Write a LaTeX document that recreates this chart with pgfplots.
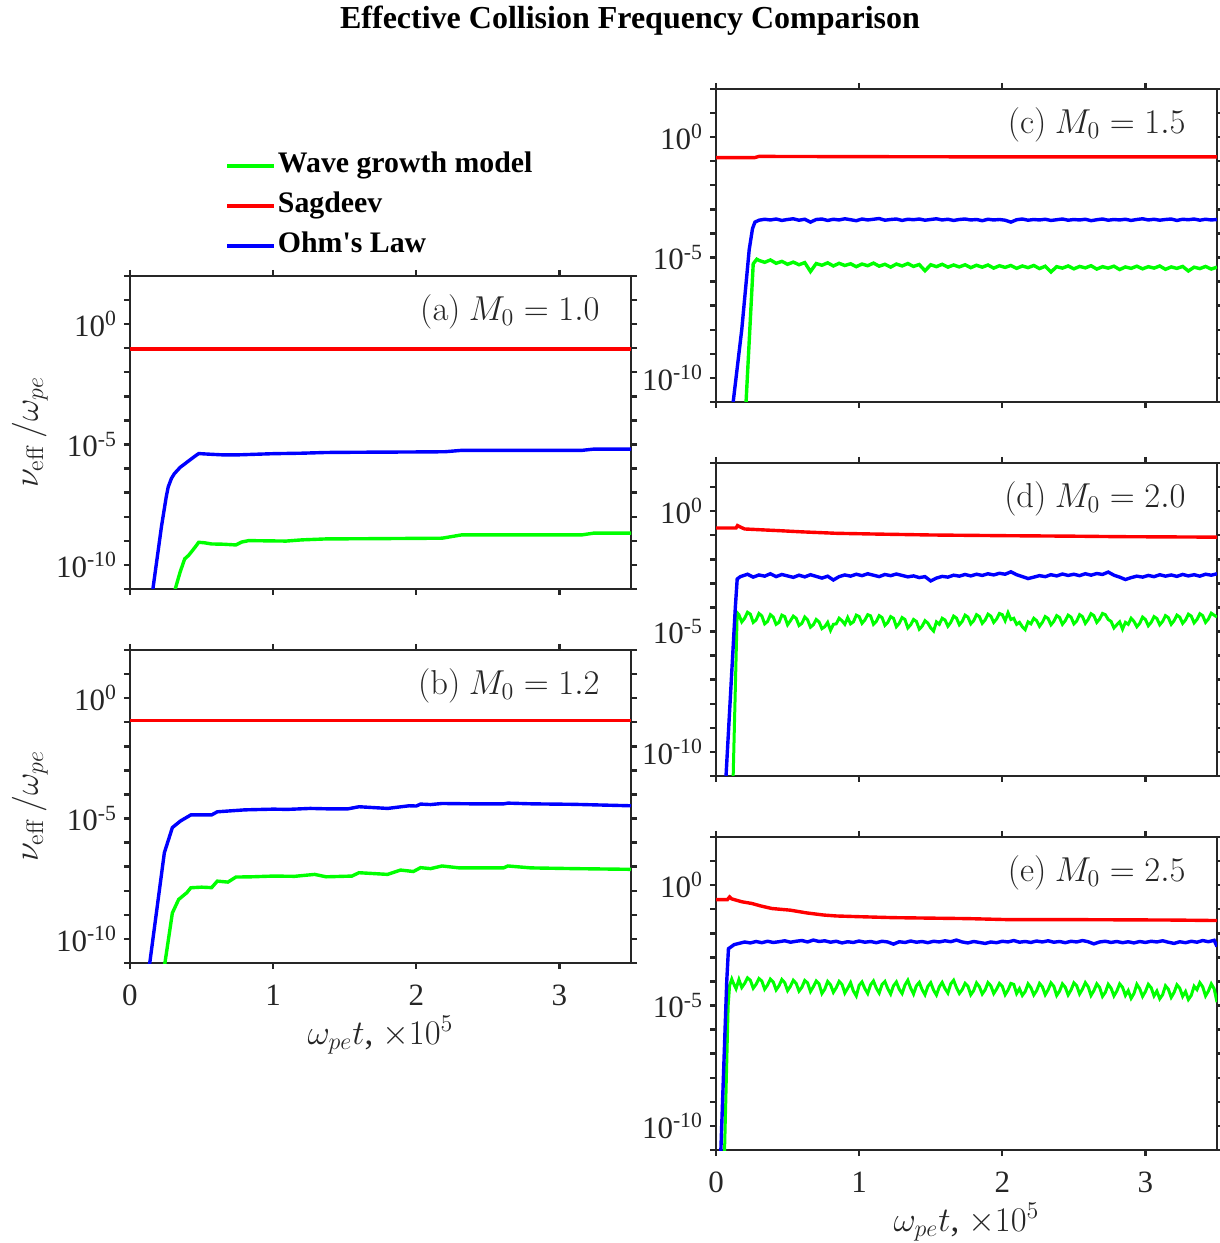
\documentclass[border=0pt]{standalone}
\usepackage[no-math]{fontspec}
\setmainfont{Liberation Serif}[Ligatures=TeXOff]
\usepackage{pgfplots}
\pgfplotsset{compat=1.18}
\definecolor{axgray}{rgb}{0.15,0.15,0.15}
\definecolor{cg}{rgb}{0,1,0}
\definecolor{cr}{rgb}{1,0,0}
\definecolor{cb}{rgb}{0,0,1}
\pgfplotsset{
  myPanel/.style={
    scale only axis, width=250.5pt, height=156.5pt,
    xmin=0, xmax=3.5, ymin=1e-11, ymax=1e2,
    xtick={0,1,2,3},
    ytick={1e-10,1e-5,1},
    yticklabels={10\textsuperscript{-10},10\textsuperscript{-5},10\textsuperscript{0}},
    minor ytick={1e-11,1e-9,1e-8,1e-7,1e-6,1e-4,1e-3,1e-2,1e-1,1e1,1e2},
    tick align=outside,
    major tick length=3pt, minor tick length=3pt,
    axis line style={line width=1.2pt, axgray},
    tick style={line width=1.2pt, axgray},
    tick label style={font=\fontsize{15.5}{18}\selectfont, text=axgray},
    xticklabel style={yshift=-4.5pt},
    label style={font=\fontsize{17.5}{20}\selectfont, text=axgray},
    clip=true,
  },
  myYlab/.style={ylabel={$\nu_{\mathrm{eff}}\,/\omega_{pe}$},
    ylabel style={at={(axis description cs:-0.2,0.5)}, anchor=center}},
  myXlab/.style={xlabel={$\omega_{pe}t$, $\times 10^5$},
    xlabel style={at={(axis description cs:0.5,-0.23)}, anchor=center}},
  myNolab/.style={xticklabels={}},
  myLine/.style={line width=1.7pt, no marks},
  myNoisy/.style={line width=1.5pt, no marks},
}
\newcommand{\plabel}[1]{\node[anchor=east, inner sep=0pt, font=\fontsize{17}{20}\selectfont, text=axgray] at (rel axis cs:0.938,0.885) {#1};}
\begin{document}
\begin{tikzpicture}
\useasboundingbox (0,0) rectangle (610pt,621.5pt);
\node[font=\bfseries\fontsize{16}{19}\selectfont] at (315pt,611pt) {Effective Collision Frequency Comparison};

% ---------------- (a) M0 = 1.0
\begin{axis}[ymode=log, myPanel, myYlab, myNolab, at={(65pt,327pt)}, anchor=south west,
  legend style={at={(axis description cs:0.178,1.42)}, anchor=north west, draw=none, fill=none,
    font=\bfseries\fontsize{14.9}{17}\selectfont, row sep=3pt,
    nodes={inner sep=1pt, text height=11pt, text depth=4pt}},
  legend cell align=left,
  legend image code/.code={\draw[#1, line width=1.7pt] (0pt,0pt) -- (23.5pt,0pt);}]
\addplot[cg, myLine] table[x index=0, y expr=10^(\thisrowno{1})] {
0.30 -11.3
0.316 -11.0
0.35 -10.3
0.382 -9.75
0.41 -9.6
0.45 -9.3
0.48 -9.06
0.52 -9.08
0.57 -9.13
0.65 -9.14
0.74 -9.17
0.78 -9.05
0.83 -8.99
0.95 -9.0
1.09 -9.01
1.2 -8.96
1.37 -8.92
1.7 -8.91
2.18 -8.89
2.32 -8.75
2.8 -8.75
3.16 -8.75
3.24 -8.68
3.5 -8.68
};
\addlegendentry{Wave growth model}
\addplot[cr, myLine] table[x index=0, y expr=10^(\thisrowno{1})] {
0 -1.03
3.5 -1.03
};
\addlegendentry{Sagdeev}
\addplot[cb, myLine] table[x index=0, y expr=10^(\thisrowno{1})] {
0.15 -11.3
0.16 -11.0
0.22 -8.4
0.253 -7.18
0.267 -6.76
0.29 -6.40
0.31 -6.21
0.35 -5.95
0.41 -5.68
0.45 -5.5
0.48 -5.375
0.55 -5.40
0.65 -5.43
0.75 -5.43
0.85 -5.41
1.0 -5.38
1.2 -5.36
1.37 -5.33
1.6 -5.32
1.95 -5.31
2.2 -5.30
2.32 -5.24
2.7 -5.24
3.16 -5.24
3.24 -5.19
3.5 -5.19
};
\addlegendentry{Ohm's Law}
\plabel{$(\mathrm{a})\ M_0 = 1.0$}
\end{axis}

% ---------------- (b) M0 = 1.2
\begin{axis}[ymode=log, myPanel, myYlab, myXlab, at={(65pt,140pt)}, anchor=south west,
  xticklabels={0,1,2,3}]
\addplot[cg, myLine] table[x index=0, y expr=10^(\thisrowno{1})] {
0.235 -11.3
0.244 -11.0
0.296 -8.92
0.34 -8.36
0.397 -8.08
0.425 -7.875
0.5 -7.85
0.57 -7.87
0.61 -7.6
0.684 -7.64
0.74 -7.43
0.85 -7.42
1.0 -7.39
1.15 -7.4
1.29 -7.32
1.37 -7.42
1.55 -7.39
1.6 -7.25
1.8 -7.32
1.89 -7.14
1.98 -7.2
2.03 -7.04
2.1 -7.08
2.18 -6.97
2.3 -7.05
2.61 -7.05
2.64 -6.97
2.8 -7.05
3.1 -7.08
3.5 -7.11
};
\addplot[cr, myLine] table[x index=0, y expr=10^(\thisrowno{1})] {
0 -0.93
3.5 -0.93
};
\addplot[cb, myLine] table[x index=0, y expr=10^(\thisrowno{1})] {
0.13 -11.3
0.138 -11.0
0.24 -6.42
0.296 -5.375
0.353 -5.1
0.425 -4.85
0.57 -4.85
0.61 -4.72
0.8 -4.64
1.0 -4.61
1.1 -4.62
1.26 -4.58
1.4 -4.6
1.52 -4.6
1.6 -4.51
1.8 -4.58
1.95 -4.47
2.0 -4.48
2.03 -4.4
2.1 -4.42
2.18 -4.375
2.4 -4.39
2.61 -4.39
2.64 -4.36
2.81 -4.39
3.1 -4.41
3.5 -4.47
};
\plabel{$(\mathrm{b})\ M_0 = 1.2$}
\end{axis}

% ---------------- (c) M0 = 1.5
\begin{axis}[ymode=log, myPanel, myNolab, at={(358pt,420.5pt)}, anchor=south west]
\addplot[cg, myLine] table[x index=0, y expr=10^(\thisrowno{1})] {
0.20 -11.3
0.21 -11.0
0.26 -5.26
0.285 -5.07
0.30 -5.12
0.34 -5.20
0.38 -5.10
0.42 -5.24
0.46 -5.16
0.50 -5.28
0.54 -5.19
0.58 -5.30
0.62 -5.21
0.66 -5.58
0.70 -5.25
0.74 -5.32
0.78 -5.22
0.82 -5.35
0.86 -5.24
0.90 -5.33
0.94 -5.26
0.98 -5.38
1.02 -5.27
1.06 -5.34
1.10 -5.23
1.14 -5.36
1.18 -5.28
1.22 -5.40
1.26 -5.27
1.30 -5.35
1.34 -5.25
1.38 -5.37
1.42 -5.29
1.46 -5.55
1.50 -5.30
1.54 -5.38
1.58 -5.28
1.62 -5.40
1.66 -5.31
1.70 -5.39
1.74 -5.30
1.78 -5.42
1.82 -5.32
1.86 -5.40
1.90 -5.31
1.94 -5.44
1.98 -5.34
2.02 -5.41
2.06 -5.33
2.10 -5.45
2.14 -5.35
2.18 -5.42
2.22 -5.33
2.26 -5.46
2.30 -5.36
2.34 -5.60
2.38 -5.38
2.42 -5.44
2.46 -5.35
2.50 -5.47
2.54 -5.37
2.58 -5.43
2.62 -5.34
2.66 -5.48
2.70 -5.38
2.74 -5.44
2.78 -5.36
2.82 -5.50
2.86 -5.39
2.90 -5.45
2.94 -5.36
2.98 -5.47
3.02 -5.38
3.06 -5.44
3.10 -5.35
3.14 -5.49
3.18 -5.39
3.22 -5.45
3.26 -5.37
3.30 -5.56
3.34 -5.40
3.38 -5.46
3.42 -5.37
3.46 -5.48
3.50 -5.40
};
\addplot[cr, myLine] table[x index=0, y expr=10^(\thisrowno{1})] {
0 -0.85
0.27 -0.85
0.30 -0.80
1.0 -0.81
2.0 -0.82
3.5 -0.82
};
\addplot[cb, myLine] table[x index=0, y expr=10^(\thisrowno{1})] {
0.11 -11.3
0.12 -11.0
0.18 -7.99
0.232 -4.67
0.255 -3.8
0.272 -3.53
0.30 -3.45
0.34 -3.41
0.38 -3.44
0.42 -3.40
0.46 -3.46
0.50 -3.42
0.54 -3.39
0.58 -3.45
0.62 -3.41
0.66 -3.53
0.70 -3.42
0.74 -3.40
0.78 -3.46
0.82 -3.41
0.86 -3.44
0.90 -3.39
0.94 -3.43
0.98 -3.47
1.02 -3.40
1.06 -3.44
1.10 -3.41
1.14 -3.38
1.18 -3.45
1.22 -3.42
1.26 -3.40
1.30 -3.46
1.34 -3.41
1.38 -3.43
1.42 -3.40
1.46 -3.45
1.50 -3.42
1.54 -3.39
1.58 -3.44
1.62 -3.41
1.66 -3.46
1.70 -3.42
1.74 -3.40
1.78 -3.44
1.82 -3.42
1.86 -3.47
1.90 -3.41
1.94 -3.44
1.98 -3.42
2.02 -3.45
2.06 -3.53
2.10 -3.43
2.14 -3.40
2.18 -3.45
2.22 -3.42
2.26 -3.44
2.30 -3.41
2.34 -3.46
2.38 -3.43
2.42 -3.40
2.46 -3.45
2.50 -3.42
2.54 -3.44
2.58 -3.41
2.62 -3.47
2.66 -3.43
2.70 -3.40
2.74 -3.45
2.78 -3.42
2.82 -3.44
2.86 -3.41
2.90 -3.46
2.94 -3.42
2.98 -3.39
3.02 -3.44
3.06 -3.41
3.10 -3.45
3.14 -3.42
3.18 -3.40
3.22 -3.46
3.26 -3.41
3.30 -3.43
3.34 -3.40
3.38 -3.45
3.42 -3.41
3.46 -3.44
3.50 -3.42
};
\plabel{$(\mathrm{c})\ M_0 = 1.5$}
\end{axis}

% ---------------- (d) M0 = 2.0
\begin{axis}[ymode=log, myPanel, myNolab, at={(358pt,233.5pt)}, anchor=south west]
\addplot[cg, myNoisy] table[x index=0, y expr=10^(\thisrowno{1})] {
0.115 -11.3
0.12 -11.0
0.148 -4.22
0.16 -4.30
0.18 -4.60
0.20 -4.45
0.22 -4.20
0.24 -4.28
0.26 -4.62
0.28 -4.52
0.30 -4.25
0.32 -4.35
0.34 -4.68
0.36 -4.58
0.38 -4.30
0.40 -4.40
0.42 -4.70
0.44 -4.62
0.46 -4.32
0.48 -4.38
0.50 -4.72
0.52 -4.55
0.54 -4.36
0.56 -4.45
0.58 -4.75
0.60 -4.66
0.62 -4.40
0.64 -4.52
0.66 -4.82
0.68 -4.72
0.70 -4.50
0.72 -4.60
0.74 -4.88
0.76 -4.80
0.78 -4.62
0.80 -4.95
0.82 -4.70
0.84 -4.68
0.86 -4.45
0.88 -4.55
0.90 -4.70
0.92 -4.42
0.94 -4.68
0.96 -4.60
0.98 -4.32
1.00 -4.38
1.02 -4.66
1.04 -4.52
1.06 -4.30
1.08 -4.35
1.10 -4.70
1.12 -4.58
1.14 -4.34
1.16 -4.42
1.18 -4.74
1.20 -4.62
1.22 -4.38
1.24 -4.45
1.26 -4.80
1.28 -4.66
1.30 -4.42
1.32 -4.50
1.34 -4.85
1.36 -4.72
1.38 -4.50
1.40 -4.58
1.42 -4.90
1.44 -4.78
1.46 -4.55
1.48 -4.65
1.50 -4.85
1.52 -4.98
1.54 -4.60
1.56 -4.70
1.58 -4.45
1.60 -4.52
1.62 -4.78
1.64 -4.62
1.66 -4.36
1.68 -4.44
1.70 -4.72
1.72 -4.58
1.74 -4.32
1.76 -4.40
1.78 -4.68
1.80 -4.55
1.82 -4.30
1.84 -4.38
1.86 -4.66
1.88 -4.52
1.90 -4.28
1.92 -4.36
1.94 -4.62
1.96 -4.48
1.98 -4.25
2.00 -4.30
2.02 -4.55
2.04 -4.22
2.06 -4.50
2.08 -4.45
2.10 -4.70
2.12 -4.62
2.14 -4.80
2.16 -4.92
2.18 -4.60
2.20 -4.68
2.22 -4.45
2.24 -4.55
2.26 -4.78
2.28 -4.62
2.30 -4.38
2.32 -4.46
2.34 -4.72
2.36 -4.58
2.38 -4.34
2.40 -4.42
2.42 -4.70
2.44 -4.55
2.46 -4.32
2.48 -4.40
2.50 -4.68
2.52 -4.56
2.54 -4.30
2.56 -4.38
2.58 -4.66
2.60 -4.50
2.62 -4.26
2.64 -4.34
2.66 -4.62
2.68 -4.48
2.70 -4.25
2.72 -4.30
2.74 -4.50
2.76 -4.58
2.78 -4.85
2.80 -4.72
2.82 -4.60
2.84 -4.90
2.86 -4.62
2.88 -4.70
2.90 -4.45
2.92 -4.58
2.94 -4.80
2.96 -4.66
2.98 -4.40
3.00 -4.50
3.02 -4.76
3.04 -4.62
3.06 -4.38
3.08 -4.46
3.10 -4.72
3.12 -4.58
3.14 -4.34
3.16 -4.42
3.18 -4.70
3.20 -4.55
3.22 -4.32
3.24 -4.40
3.26 -4.66
3.28 -4.52
3.30 -4.28
3.32 -4.36
3.34 -4.64
3.36 -4.50
3.38 -4.26
3.40 -4.34
3.42 -4.62
3.44 -4.48
3.46 -4.24
3.48 -4.32
3.50 -4.40
};
\addplot[cr, myLine] table[x index=0, y expr=10^(\thisrowno{1})] {
0 -0.70
0.14 -0.70
0.15 -0.60
0.17 -0.66
0.2 -0.74
0.3 -0.77
0.44 -0.81
0.6 -0.86
0.84 -0.92
1.1 -0.95
1.5 -0.99
2.03 -1.02
2.5 -1.04
2.82 -1.06
3.5 -1.08
};
\addplot[cb, myLine] table[x index=0, y expr=10^(\thisrowno{1})] {
0.065 -11.3
0.07 -11.0
0.135 -4.0
0.148 -2.82
0.17 -2.72
0.18 -2.70
0.22 -2.62
0.26 -2.74
0.30 -2.65
0.34 -2.70
0.38 -2.60
0.42 -2.72
0.46 -2.63
0.50 -2.69
0.54 -2.75
0.58 -2.66
0.62 -2.73
0.66 -2.64
0.70 -2.71
0.74 -2.78
0.78 -2.70
0.82 -2.86
0.86 -2.72
0.90 -2.65
0.94 -2.70
0.98 -2.62
1.02 -2.68
1.06 -2.60
1.10 -2.66
1.14 -2.72
1.18 -2.63
1.22 -2.68
1.26 -2.61
1.30 -2.67
1.34 -2.73
1.38 -2.69
1.42 -2.76
1.46 -2.72
1.50 -2.90
1.54 -2.78
1.58 -2.71
1.62 -2.74
1.66 -2.66
1.70 -2.70
1.74 -2.63
1.78 -2.69
1.82 -2.62
1.86 -2.67
1.90 -2.60
1.94 -2.65
1.98 -2.58
2.02 -2.62
2.06 -2.52
2.10 -2.64
2.14 -2.72
2.18 -2.80
2.22 -2.74
2.26 -2.68
2.30 -2.72
2.34 -2.64
2.38 -2.69
2.42 -2.61
2.46 -2.67
2.50 -2.62
2.54 -2.68
2.58 -2.60
2.62 -2.66
2.66 -2.59
2.70 -2.63
2.74 -2.53
2.78 -2.66
2.82 -2.74
2.86 -2.84
2.90 -2.76
2.94 -2.70
2.98 -2.74
3.02 -2.67
3.06 -2.72
3.10 -2.64
3.14 -2.70
3.18 -2.65
3.22 -2.71
3.26 -2.63
3.30 -2.69
3.34 -2.64
3.38 -2.70
3.42 -2.62
3.46 -2.66
3.50 -2.60
};
\plabel{$(\mathrm{d})\ M_0 = 2.0$}
\end{axis}

% ---------------- (e) M0 = 2.5
\begin{axis}[ymode=log, myPanel, myXlab, at={(358pt,46.5pt)}, anchor=south west,
  xticklabels={0,1,2,3}]
\addplot[cg, myNoisy] table[x index=0, y expr=10^(\thisrowno{1})] {
0.055 -11.3
0.06 -11.0
0.085 -5.0
0.095 -4.17
0.11 -3.90
0.12 -4.05
0.14 -4.30
0.16 -3.92
0.18 -4.25
0.20 -4.08
0.22 -3.85
0.24 -3.95
0.26 -4.28
0.28 -4.12
0.30 -3.88
0.32 -3.98
0.34 -4.32
0.36 -4.15
0.38 -3.90
0.40 -4.02
0.42 -4.35
0.44 -4.18
0.46 -3.92
0.48 -4.05
0.50 -4.38
0.52 -4.20
0.54 -3.95
0.56 -4.08
0.58 -4.40
0.60 -4.24
0.62 -3.96
0.64 -4.06
0.66 -4.42
0.68 -4.22
0.70 -3.98
0.72 -4.10
0.74 -4.50
0.76 -4.32
0.78 -4.00
0.80 -4.14
0.82 -4.45
0.84 -4.26
0.86 -4.00
0.88 -4.12
0.90 -4.48
0.92 -4.28
0.94 -4.05
0.96 -4.40
0.98 -4.60
1.00 -4.16
1.02 -4.02
1.04 -4.30
1.06 -4.50
1.08 -4.14
1.10 -3.98
1.12 -4.28
1.14 -4.48
1.16 -4.12
1.18 -4.00
1.20 -4.30
1.22 -4.52
1.24 -4.18
1.26 -4.02
1.28 -4.32
1.30 -4.50
1.32 -4.15
1.34 -3.95
1.36 -4.28
1.38 -4.52
1.40 -4.18
1.42 -4.04
1.44 -4.34
1.46 -4.55
1.48 -4.20
1.50 -4.05
1.52 -4.36
1.54 -4.56
1.56 -4.22
1.58 -4.04
1.60 -4.30
1.62 -4.48
1.64 -4.10
1.66 -3.95
1.68 -4.26
1.70 -4.50
1.72 -4.34
1.74 -4.08
1.76 -4.20
1.78 -4.55
1.80 -4.38
1.82 -4.06
1.84 -4.22
1.86 -4.52
1.88 -4.35
1.90 -4.05
1.92 -4.18
1.94 -4.50
1.96 -4.32
1.98 -4.08
2.00 -4.20
2.02 -4.55
2.04 -4.36
2.06 -4.08
2.08 -4.12
2.10 -4.50
2.12 -4.30
2.14 -4.58
2.16 -4.42
2.18 -4.10
2.20 -4.26
2.22 -4.56
2.24 -4.38
2.26 -4.08
2.28 -4.22
2.30 -4.55
2.32 -4.35
2.34 -4.06
2.36 -4.20
2.38 -4.58
2.40 -4.40
2.42 -4.10
2.44 -4.24
2.46 -4.56
2.48 -4.36
2.50 -4.06
2.52 -4.18
2.54 -4.52
2.56 -4.32
2.58 -4.05
2.60 -4.22
2.62 -4.58
2.64 -4.38
2.66 -4.10
2.68 -4.25
2.70 -4.62
2.72 -4.45
2.74 -4.12
2.76 -4.28
2.78 -4.60
2.80 -4.40
2.82 -4.10
2.84 -4.24
2.86 -4.58
2.88 -4.38
2.90 -4.70
2.92 -4.50
2.94 -4.12
2.96 -4.30
2.98 -4.62
3.00 -4.42
3.02 -4.12
3.04 -4.26
3.06 -4.60
3.08 -4.40
3.10 -4.72
3.12 -4.55
3.14 -4.18
3.16 -4.32
3.18 -4.66
3.20 -4.46
3.22 -4.14
3.24 -4.28
3.26 -4.62
3.28 -4.42
3.30 -4.75
3.32 -4.58
3.34 -4.20
3.36 -4.34
3.38 -4.05
3.40 -4.22
3.42 -4.60
3.44 -4.40
3.46 -4.10
3.48 -4.30
3.50 -4.86
};
\addplot[cr, myLine] table[x index=0, y expr=10^(\thisrowno{1})] {
0 -0.60
0.08 -0.60
0.095 -0.49
0.11 -0.57
0.18 -0.69
0.25 -0.76
0.31 -0.86
0.39 -0.97
0.52 -1.04
0.63 -1.15
0.75 -1.24
0.84 -1.28
1.0 -1.31
1.24 -1.35
1.5 -1.37
1.76 -1.39
2.03 -1.43
2.4 -1.43
2.82 -1.44
3.2 -1.45
3.5 -1.47
};
\addplot[cb, myLine] table[x index=0, y expr=10^(\thisrowno{1})] {
0.03 -11.3
0.034 -11.0
0.075 -4.0
0.087 -2.64
0.127 -2.47
0.16 -2.42
0.20 -2.36
0.24 -2.40
0.28 -2.34
0.32 -2.39
0.36 -2.33
0.40 -2.38
0.44 -2.35
0.48 -2.31
0.52 -2.37
0.56 -2.33
0.60 -2.30
0.64 -2.36
0.68 -2.28
0.72 -2.34
0.76 -2.31
0.80 -2.37
0.84 -2.33
0.88 -2.40
0.92 -2.35
0.96 -2.38
1.00 -2.32
1.04 -2.37
1.08 -2.34
1.12 -2.39
1.16 -2.33
1.20 -2.36
1.24 -2.45
1.28 -2.35
1.32 -2.38
1.36 -2.32
1.40 -2.37
1.44 -2.34
1.48 -2.39
1.52 -2.33
1.56 -2.36
1.60 -2.31
1.64 -2.35
1.68 -2.28
1.72 -2.36
1.76 -2.40
1.80 -2.34
1.84 -2.38
1.88 -2.42
1.92 -2.36
1.96 -2.39
2.00 -2.33
2.04 -2.36
2.08 -2.30
2.12 -2.37
2.16 -2.34
2.20 -2.38
2.24 -2.32
2.28 -2.36
2.32 -2.31
2.36 -2.37
2.40 -2.34
2.44 -2.39
2.48 -2.33
2.52 -2.36
2.56 -2.30
2.60 -2.35
2.64 -2.44
2.68 -2.36
2.72 -2.33
2.76 -2.38
2.80 -2.34
2.84 -2.39
2.88 -2.35
2.92 -2.40
2.96 -2.34
3.00 -2.38
3.04 -2.33
3.08 -2.36
3.12 -2.31
3.16 -2.37
3.20 -2.42
3.24 -2.35
3.28 -2.39
3.32 -2.33
3.36 -2.37
3.40 -2.30
3.44 -2.35
3.48 -2.29
3.50 -2.55
};
\plabel{$(\mathrm{e})\ M_0 = 2.5$}
\end{axis}
\end{tikzpicture}
\end{document}
